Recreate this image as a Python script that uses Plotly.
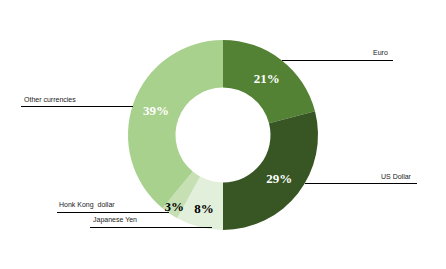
import plotly.graph_objects as go

categories = ["Euro", "US Dollar", "Japanese Yen", "Honk Kong  dollar", "Other currencies"]
values = [21, 29, 8, 3, 39]
colors = ["#548235", "#375623", "#E2EFDA", "#C6E0B4", "#A9D18E"]
text_colors = ["white", "white", "black", "black", "white"]

W, H = 446, 269

def px(x):
    return x / W

def py(y):
    return 1 - y / H

fig = go.Figure(go.Pie(
    labels=categories,
    values=values,
    sort=False,
    direction="clockwise",
    rotation=0,
    hole=0.5,
    marker=dict(colors=colors, line=dict(width=0)),
    texttemplate="%{value}%",
    textposition="inside",
    insidetextorientation="horizontal",
    textfont=dict(family="Liberation Serif", size=13, color=text_colors, weight="bold"),
    domain=dict(x=[px(128), px(318)], y=[py(230), py(40)]),
    showlegend=False,
    hoverinfo="label+percent",
))

# leader lines in category order: (x0, x1, y, text x, anchor)
leaders = [
    (282, 393, 60.5, 390, "right"),
    (305, 417, 183.5, 414, "right"),
    (90, 212, 227.5, 91, "left"),
    (57, 169, 212.5, 57, "left"),
    (21, 133, 106.5, 22, "left"),
]
shapes = []
annotations = []
for cat, (x0, x1, y, tx, anchor) in zip(categories, leaders):
    shapes.append(dict(type="line", xref="paper", yref="paper",
                       x0=px(x0), x1=px(x1), y0=py(y), y1=py(y),
                       line=dict(color="black", width=1)))
    annotations.append(dict(text=cat, xref="paper", yref="paper",
                            x=px(tx), y=py(y - 2), xanchor=anchor, yanchor="bottom",
                            showarrow=False,
                            font=dict(family="Liberation Sans", size=7, color="#222222")))

fig.update_layout(
    width=W, height=H,
    margin=dict(l=0, r=0, t=0, b=0),
    paper_bgcolor="white",
    plot_bgcolor="white",
    shapes=shapes,
    annotations=annotations,
    uniformtext=dict(minsize=13, mode="show"),
)

fig.write_html("out.html")
